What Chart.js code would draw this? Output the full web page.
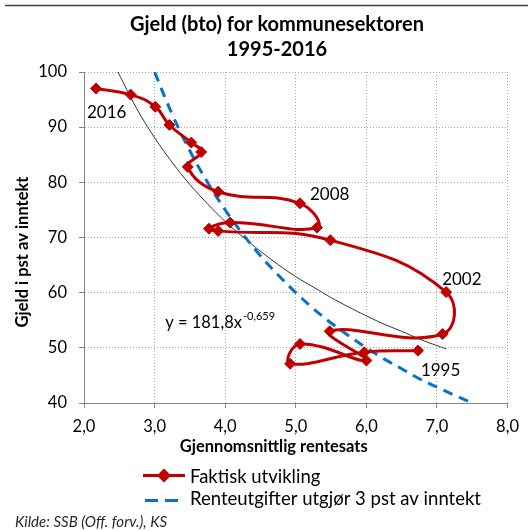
<!DOCTYPE html>
<html>
<head>
<meta charset="utf-8">
<script src="https://cdn.jsdelivr.net/npm/chart.js@4"></script>
<style>
  html, body { margin: 0; padding: 0; background: #ffffff; }
  #chart { display: block; }
</style>
</head>
<body>
<canvas id="chart" width="528" height="531"></canvas>
<script>
// Gjeld (bto) for kommunesektoren 1995-2016

const years = [1995, 1996, 1997, 1998, 1999, 2000, 2001, 2002, 2003, 2004, 2005,
               2006, 2007, 2008, 2009, 2010, 2011, 2012, 2013, 2014, 2015, 2016];
const rentesats = [6.73, 5.97, 4.92, 5.06, 6.00, 5.48, 7.08, 7.13, 5.49, 3.90, 3.77,
                   4.07, 5.30, 5.06, 3.90, 3.47, 3.66, 3.52, 3.21, 3.01, 2.66, 2.17];
const gjeld = [49.5, 49.2, 47.1, 50.7, 47.7, 53.0, 52.5, 60.1, 69.5, 71.2, 71.6,
               72.7, 71.8, 76.2, 78.3, 82.8, 85.5, 87.2, 90.4, 93.7, 95.9, 97.0];

// renteutgifter = 3 pst av inntekt
const grenseX = [3.0, 3.25, 3.5, 3.75, 4.0, 4.25, 4.5, 4.75, 5.0, 5.25, 5.5, 5.75,
                 6.0, 6.25, 6.5, 6.75, 7.0, 7.25, 7.5];
const grenseY = [100, 92.3, 85.7, 80.0, 75.0, 70.6, 66.7, 63.2, 60.0, 57.1, 54.5, 52.2,
                 50.0, 48.0, 46.2, 44.4, 42.9, 41.4, 40.0];

// trendlinje y = 181,8x^-0,659
const trendX = [2.48, 2.75, 3.0, 3.25, 3.5, 3.75, 4.0, 4.25, 4.5, 4.75, 5.0, 5.25,
                5.5, 5.75, 6.0, 6.25, 6.5, 6.75, 7.0, 7.13];
const trendY = [100, 93.3, 88.1, 83.6, 79.6, 76.1, 72.9, 70.1, 67.5, 65.1, 62.9, 61.0,
                59.1, 57.4, 55.8, 54.3, 53.0, 51.6, 50.4, 49.8];

const xTicks = [2, 3, 4, 5, 6, 7, 8];
const yTicks = [40, 50, 60, 70, 80, 90, 100];
const yearLabels = [2016, 2008, 2002, 1995];

const legendLabels = ['Faktisk utvikling', 'Renteutgifter utgjør 3 pst av inntekt'];

const FONT = 'Lato, "Open Sans", sans-serif';
const RED = '#c00000';
const BLUE = '#0a72c6';

const toPoints = (xs, ys) => xs.map((x, i) => ({ x: x, y: ys[i] }));

// offsets of the year labels from their point, in pixels
const yearOffsets = {
    2016: { dx: -9, dy: 24 },
    2008: { dx: 10, dy: -9 },
    2002: { dx: -4, dy: -13 },
    1995: { dx: 3, dy: 20 }
};

const textPlugin = {
    id: 'texts',
    afterDraw(chart) {
        const ctx = chart.ctx;
        const xs = chart.scales.x;
        const ys = chart.scales.y;
        const area = chart.chartArea;

        ctx.save();

        // top rule
        ctx.strokeStyle = '#404040';
        ctx.lineWidth = 1.5;
        ctx.beginPath();
        ctx.moveTo(5, 5.5);
        ctx.lineTo(528, 5.5);
        ctx.stroke();

        ctx.fillStyle = '#000';
        ctx.textAlign = 'center';
        ctx.textBaseline = 'middle';
        ctx.font = 'bold 20px ' + FONT;
        ctx.fillText('Gjeld (bto) for kommunesektoren', 277, 25);
        ctx.fillText('1995-2016', 277, 50);

        // axis titles
        ctx.font = 'bold 16.5px ' + FONT;
        ctx.fillText('Gjennomsnittlig rentesats', (area.left + area.right) / 2 - 22, 447);
        ctx.save();
        ctx.translate(23, 252);
        ctx.rotate(-Math.PI / 2);
        ctx.fillText('Gjeld i pst av inntekt', 0, 0);
        ctx.restore();

        // year labels
        ctx.font = '17px ' + FONT;
        ctx.textAlign = 'left';
        yearLabels.forEach(yr => {
            const i = years.indexOf(yr);
            const px = xs.getPixelForValue(rentesats[i]);
            const py = ys.getPixelForValue(gjeld[i]);
            const o = yearOffsets[yr];
            ctx.fillText(String(yr), px + o.dx, py + o.dy);
        });

        // trend equation
        const tx = xs.getPixelForValue(3.15);
        const ty = ys.getPixelForValue(54.6);
        ctx.font = '16.5px ' + FONT;
        const base = 'y = 181,8x';
        ctx.fillText(base, tx, ty);
        const w = ctx.measureText(base).width;
        ctx.font = '11px ' + FONT;
        ctx.fillText('-0,659', tx + w + 1, ty - 6);

        // legend
        const ds = chart.data.datasets;
        ctx.font = '18.5px ' + FONT;
        ctx.textAlign = 'left';
        ctx.strokeStyle = ds[0].borderColor;
        ctx.lineWidth = ds[0].borderWidth;
        ctx.beginPath();
        ctx.moveTo(143, 475.5);
        ctx.lineTo(185, 475.5);
        ctx.stroke();
        Chart.helpers.drawPoint(ctx, {
            pointStyle: 'rectRot', radius: 5, borderWidth: 1
        }, 164, 475.5);
        ctx.fillStyle = ds[0].pointBackgroundColor;
        ctx.fill();
        ctx.fillStyle = '#000';
        ctx.fillText(legendLabels[0], 190, 477);

        ctx.strokeStyle = ds[1].borderColor;
        ctx.lineWidth = ds[1].borderWidth;
        ctx.setLineDash([13, 7]);
        ctx.beginPath();
        ctx.moveTo(145, 500.5);
        ctx.lineTo(178, 500.5);
        ctx.stroke();
        ctx.setLineDash([]);
        ctx.fillText(legendLabels[1], 190, 499);

        // source
        ctx.font = 'italic 15px ' + FONT;
        ctx.fillStyle = '#262626';
        ctx.fillText('Kilde: SSB (Off. forv.), KS', 15, 522);

        ctx.restore();
    }
};

const gridStyle = {
    color: '#a6a6a6',
    tickColor: '#868686',
    tickLength: 5,
    lineWidth: 1
};
const borderStyle = {
    color: '#868686',
    width: 1,
    dash: [1, 2]
};

new Chart(document.getElementById('chart').getContext('2d'), {
    type: 'scatter',
    data: {
        datasets: [{
            label: legendLabels[0],
            data: toPoints(rentesats, gjeld),
            showLine: true,
            borderColor: RED,
            backgroundColor: RED,
            pointBackgroundColor: RED,
            pointBorderColor: RED,
            borderWidth: 3,
            pointStyle: 'rectRot',
            pointRadius: 5.5,
            pointBorderWidth: 1,
            tension: 0.45,
            fill: false
        }, {
            label: legendLabels[1],
            data: toPoints(grenseX, grenseY),
            showLine: true,
            borderColor: BLUE,
            borderWidth: 3,
            borderDash: [10, 7],
            pointRadius: 0,
            tension: 0.4,
            fill: false
        }, {
            label: 'trend',
            data: toPoints(trendX, trendY),
            showLine: true,
            borderColor: '#333333',
            borderWidth: 1,
            pointRadius: 0,
            tension: 0.4,
            fill: false
        }]
    },
    options: {
        responsive: false,
        animation: false,
        devicePixelRatio: 1,
        layout: {
            padding: { top: 72, right: 14, left: 0, bottom: 0 }
        },
        plugins: {
            legend: { display: false },
            tooltip: { enabled: false },
            title: { display: false }
        },
        scales: {
            x: {
                type: 'linear',
                min: 2,
                max: 8,
                afterBuildTicks: axis => { axis.ticks = xTicks.map(v => ({ value: v })); },
                afterFit: axis => { axis.height = 128; },
                ticks: {
                    color: '#000',
                    padding: 9,
                    font: { family: FONT, size: 16.5 },
                    callback: v => v.toFixed(1).replace('.', ',')
                },
                grid: gridStyle,
                border: borderStyle
            },
            y: {
                type: 'linear',
                min: 40,
                max: 100,
                afterBuildTicks: axis => { axis.ticks = yTicks.map(v => ({ value: v })); },
                afterFit: axis => { axis.width = 84; },
                ticks: {
                    color: '#000',
                    padding: 12,
                    font: { family: FONT, size: 16.5 },
                    callback: v => String(v)
                },
                grid: gridStyle,
                border: borderStyle
            }
        }
    },
    plugins: [textPlugin]
});
</script>
</body>
</html>
